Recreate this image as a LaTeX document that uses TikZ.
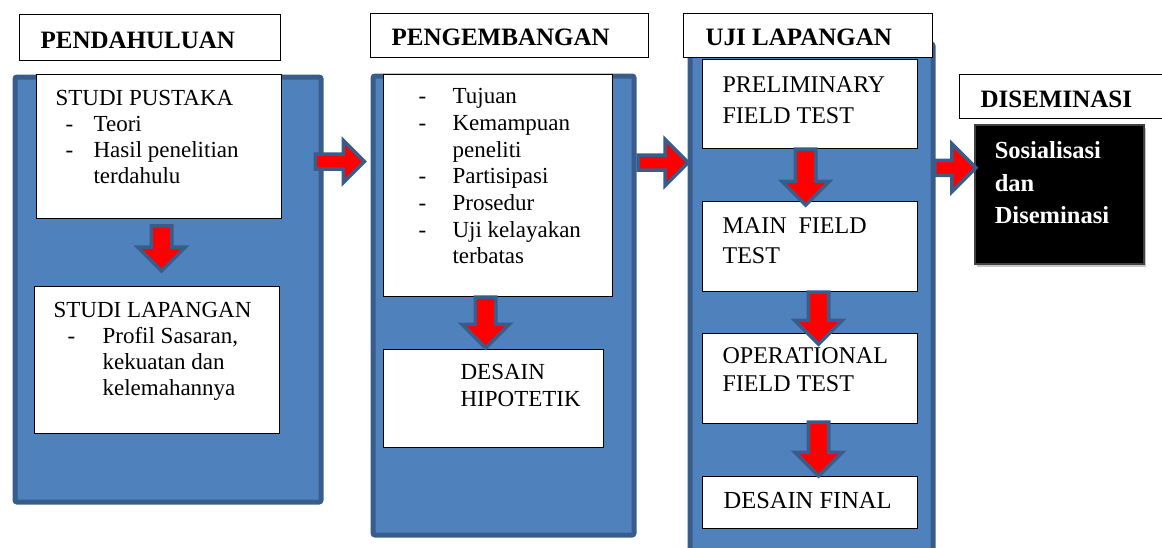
\documentclass[tikz,border=0pt]{standalone}
\usepackage{fontspec}
\setmainfont{Liberation Serif}
\usepackage{tikz}
\usetikzlibrary{shapes.arrows,shadows}
\definecolor{panelblue}{HTML}{4F81BD}
\definecolor{paneledge}{HTML}{385D8A}

\begin{document}
\begin{tikzpicture}[x=1pt, y=-1pt,
  panel/.style={draw=paneledge, fill=panelblue, line width=5pt, rounded corners=2pt, inner sep=0pt, anchor=north west},
  headbox/.style={draw=black, fill=white, line width=1.2pt, inner sep=0pt, anchor=north west, font=\fontsize{25}{30}\selectfont\bfseries},
  wbox/.style={draw=black, fill=white, line width=1.2pt, inner sep=0pt, anchor=north west, font=\fontsize{23}{26}\selectfont},
  tbox/.style={wbox, font=\fontsize{24}{30}\selectfont},
  darr/.style={single arrow, draw=paneledge, fill=red, line width=3.5pt, rotate=-90, inner xsep=0pt, inner ysep=8.5pt, single arrow head extend=13.5pt},
  rarr/.style={single arrow, draw=paneledge, fill=red, line width=3.5pt, inner xsep=0pt, inner ysep=5.75pt, single arrow head extend=13.5pt}
]
\useasboundingbox (0,0) rectangle (1162,547);
\clip (0,0) rectangle (1162,547);

\node[panel, minimum width=306pt, minimum height=425pt] (p1) at (12.5,74.5) {};
\node[panel, minimum width=261pt, minimum height=459pt] (p2) at (370.5,73.5) {};
\node[panel, minimum width=243pt, minimum height=530pt] (p3) at (687.5,41.5) {};

\node[headbox] (h1) at (19,14) {\parbox[t][46pt][t]{261pt}{\rule{0pt}{34pt}\hspace*{21pt}PENDAHULUAN}};
\node[headbox] (h2) at (370,13) {\parbox[t][44pt][t]{278pt}{\rule{0pt}{32pt}\hspace*{21pt}PENGEMBANGAN}};
\node[headbox] (h3) at (683,13) {\parbox[t][44pt][t]{249pt}{\rule{0pt}{32pt}\hspace*{22pt}UJI LAPANGAN}};
\node[headbox] (h4) at (959,74) {\parbox[t][44pt][t]{215pt}{\rule{0pt}{33pt}\hspace*{21pt}DISEMINASI}};

\node[wbox] (pustaka) at (36,74) {\parbox[t][144pt][t]{245pt}{%
  \rule{0pt}{31pt}\hspace*{19pt}STUDI PUSTAKA\\
  \hspace*{29pt}\makebox[28pt][l]{-}Teori\\
  \hspace*{29pt}\makebox[28pt][l]{-}Hasil penelitian\\
  \hspace*{57pt}terdahulu}};
\node[wbox] (lapangan) at (34,286) {\parbox[t][147pt][t]{245pt}{%
  \rule{0pt}{31pt}\hspace*{19pt}STUDI LAPANGAN\\
  \hspace*{33pt}\makebox[35pt][l]{-}Profil Sasaran,\\
  \hspace*{68pt}kekuatan dan\\
  \hspace*{68pt}kelemahannya}};

\node[wbox, font=\fontsize{23}{26.7}\selectfont] (tujuan) at (383,74) {\parbox[t][222pt][t]{229pt}{%
  \rule{0pt}{29pt}\hspace*{35pt}\makebox[34pt][l]{-}Tujuan\\
  \hspace*{35pt}\makebox[34pt][l]{-}Kemampuan\\
  \hspace*{69pt}peneliti\\
  \hspace*{35pt}\makebox[34pt][l]{-}Partisipasi\\
  \hspace*{35pt}\makebox[34pt][l]{-}Prosedur\\
  \hspace*{35pt}\makebox[34pt][l]{-}Uji kelayakan\\
  \hspace*{69pt}terbatas}};
\node[wbox, font=\fontsize{23}{27}\selectfont] (hipotetik) at (383,349) {\parbox[t][98pt][t]{220pt}{%
  \rule{0pt}{30pt}\hspace*{77pt}DESAIN\\
  \hspace*{77pt}HIPOTETIK}};

\node[tbox, font=\fontsize{24}{31}\selectfont] (prelim) at (702,59) {\parbox[t][89pt][t]{215pt}{%
  \rule{0pt}{33pt}\hspace*{20pt}PRELIMINARY\\
  \hspace*{20pt}FIELD TEST}};
\node[tbox] (mainft) at (702,201) {\parbox[t][90pt][t]{215pt}{%
  \rule{0pt}{32pt}\hspace*{20pt}MAIN\ \ FIELD\\
  \hspace*{20pt}TEST}};
\node[tbox, font=\fontsize{24}{28}\selectfont] (oper) at (702,333) {\parbox[t][90pt][t]{215pt}{%
  \rule{0pt}{30pt}\hspace*{20pt}OPERATIONAL\\
  \hspace*{20pt}FIELD TEST}};
\node[tbox, font=\fontsize{24.5}{30}\selectfont] (final) at (702,476) {\parbox[t][52pt][t]{215pt}{%
  \rule{0pt}{32pt}\hspace*{21pt}DESAIN FINAL}};

\node[anchor=north west, inner sep=0pt, fill=black, draw=black!75, line width=1.5pt, text=white,
  drop shadow={opacity=0.45, shadow xshift=2pt, shadow yshift=-3pt},
  font=\fontsize{24.5}{32.5}\selectfont\bfseries] (diss) at (974,124) {\parbox[t][139pt][t]{169pt}{%
  \rule{0pt}{34pt}\hspace*{20pt}Sosialisasi\\
  \hspace*{20pt}dan\\
  \hspace*{20pt}Diseminasi}};

\path ([xshift=2.5pt]pustaka.south) -- node[darr, pos=0.36, minimum height=45pt] (d1) {} ([xshift=4.5pt]lapangan.north);
\path ([xshift=-12.5pt]tujuan.south) -- node[darr, pos=0.39, minimum height=51pt] (d2) {} ([xshift=-8pt]hipotetik.north);
\path ([xshift=-4.5pt]prelim.south) -- node[darr, pos=0.44, minimum height=56pt] (d3) {} ([xshift=-4.5pt]mainft.north);
\path ([xshift=8.5pt]mainft.south) -- node[darr, pos=0.51, minimum height=52pt] (d4) {} ([xshift=8.5pt]oper.north);
\path ([xshift=8.5pt]oper.south) -- node[darr, pos=0.38, minimum height=54pt] (d5) {} ([xshift=8.5pt]final.north);

\path ([yshift=-87pt]p1.north east) -- node[rarr, pos=0.27, minimum height=49pt] (r1) {} ([yshift=-88pt]p2.north west);
\path ([yshift=-89pt]p2.north east) -- node[rarr, pos=0.45, minimum height=50pt, single arrow head extend=15.5pt] (r2) {} ([yshift=-121pt]p3.north west);
\path ([yshift=-127pt]p3.north east) -- node[rarr, pos=0.42, minimum height=41pt, single arrow head extend=16.5pt] (r3) {} ([yshift=27.5pt]diss.west);
\end{tikzpicture}
\end{document}
